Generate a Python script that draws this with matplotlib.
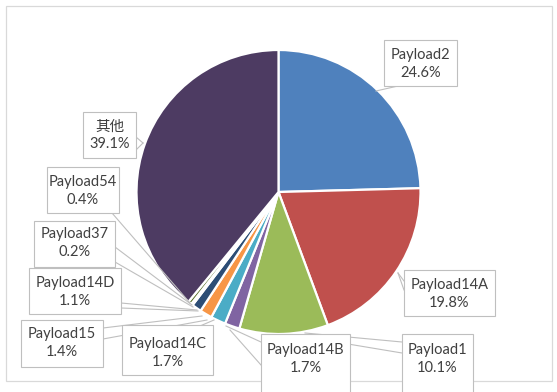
import matplotlib.pyplot as plt
from matplotlib.patches import Rectangle

plt.rcParams['font.family'] = ['Lato', 'Noto Sans CJK SC', 'DejaVu Sans']

# data (clockwise from 12 o'clock)
labels = ["Payload2", "Payload14A", "Payload1", "Payload14B", "Payload14C",
          "Payload15", "Payload14D", "Payload37", "Payload54", "其他"]
values = [24.6, 19.8, 10.1, 1.7, 1.7, 1.4, 1.1, 0.2, 0.4, 39.1]
colors = ["#4F81BD", "#C0504D", "#9BBB59", "#8064A2", "#4BACC6",
          "#F79646", "#2C4D75", "#772C2A", "#5F7530", "#4D3B62"]

W, H = 557, 392

def Y(py):
    # pixel row -> data y
    return H - py

fig = plt.figure(figsize=(W / 100, H / 100), dpi=100)
ax = fig.add_axes([0, 0, 1, 1])

ax.pie(values, colors=colors, startangle=90, counterclock=False,
       center=(278.5, Y(192)), radius=142, frame=True,
       wedgeprops=dict(edgecolor='white', linewidth=1.6))

ax.set_xlim(0, W)
ax.set_ylim(0, H)
ax.set_aspect('auto')
ax.axis('off')

# outer chart border
ax.add_patch(Rectangle((6, Y(381)), 546, 375, fill=False,
                       edgecolor='#D9D9D9', linewidth=0.9, zorder=1))

# label boxes: (x0, top, x1, bottom) in pixels, text centre y
boxes = {
    "Payload2":   ((384, 40, 457, 86), 64),
    "Payload14A": ((404, 270, 495, 316), 294),
    "Payload1":   ((402, 334, 473, 400), 359),
    "Payload14B": ((261, 334, 350, 400), 359),
    "Payload14C": ((122, 325, 213, 375), 353),
    "Payload15":  ((21, 320, 103, 367), 343),
    "Payload14D": ((29, 268, 121, 314), 292),
    "Payload37":  ((34, 221, 115, 267), 243),
    "Payload54":  ((47, 167, 119, 213), 191),
    "其他":        ((83, 112, 136, 158), 135),
}

leaders = [
    [(376, 91), (398, 86)],
    [(398, 273), (404, 281)], [(398, 273), (404, 290)],
    [(143, 143), (136, 137)], [(143, 143), (136, 150)],
    [(112, 213), (190, 303)],
    [(115, 247), (192, 305)], [(115, 262), (193, 307)],
    [(121, 303), (197, 310)], [(121, 308), (198, 311)],
    [(103, 328), (202, 316)], [(103, 339), (207, 320)],
    [(200, 326), (214, 320)],
    [(226, 326), (261, 342)], [(230, 330), (261, 365)],
    [(305, 333), (402, 342)], [(300, 336), (402, 353)],
]
for seg in leaders:
    ax.plot([p[0] for p in seg], [Y(p[1]) for p in seg],
            color='#BFBFBF', linewidth=0.8, zorder=3, clip_on=False)

for lab, val in zip(labels, values):
    (x0, t, x1, b), cy = boxes[lab]
    ax.add_patch(Rectangle((x0, Y(b)), x1 - x0, b - t, facecolor='white',
                           edgecolor='#BFBFBF', linewidth=0.8, zorder=4))
    ax.text((x0 + x1) / 2, Y(cy), f"{lab}\n{val:.1f}%", ha='center',
            va='center', fontsize=10.5, color='#404040', linespacing=1.3,
            zorder=5)

fig.savefig("out.png", dpi=100)
